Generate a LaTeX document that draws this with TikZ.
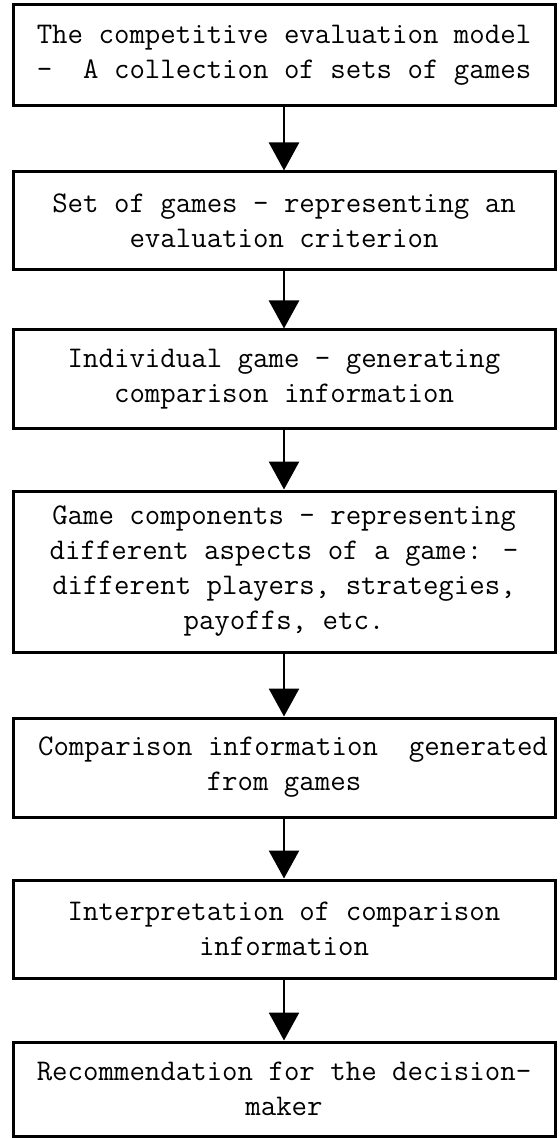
\documentclass[tikz,border=0pt]{standalone}
\usepackage{tikz}
\usetikzlibrary{arrows.meta, positioning}

\begin{document}
\begin{tikzpicture}[>={Triangle[length=14pt, width=15pt]}, line width=1.2pt,
    every node/.style={font=\fontsize{15}{17.5}\selectfont\ttfamily}]
    % Define styles for the stage blocks and the links
    \tikzstyle{block} = [draw, fill=white, rectangle, line width=1.5pt, align=center, minimum width=271pt, inner sep=0pt]
    \tikzstyle{link} = [->, line width=1.3pt]

    \useasboundingbox (0,0) rectangle (279.5pt,-569pt);

    % Nodes placement
    \node [block, minimum height=50.5pt] (model) at (142pt,-27.75pt)
        {The competitive evaluation model\\-\ \ A collection of sets of games};
    \node [block, minimum height=49pt, below of=model, node distance=82.75pt] (gameset)
        {Set of games - representing an\\evaluation criterion};
    \node [block, minimum height=49pt, below of=gameset, node distance=79pt] (game)
        {Individual game - generating\\comparison information};
    \node [block, minimum height=80.5pt, below of=game, node distance=96.25pt] (components)
        {Game components - representing\\different aspects of a game: -\\different players, strategies,\\payoffs, etc.};
    \node [block, minimum height=49.5pt, below of=components, node distance=98pt] (compinfo)
        {\hspace*{9pt}Comparison information\ \ generated\\from games};
    \node [block, minimum height=49pt, below of=compinfo, node distance=80.75pt] (interp)
        {Interpretation of comparison\\information};
    \node [block, minimum height=47pt, below of=interp, node distance=80pt] (recommend)
        {Recommendation for the decision-\\maker};

    % Draw edges
    \draw[link] (model) -- (gameset);
    \draw[link] (gameset) -- (game);
    \draw[link] (game) -- (components);
    \draw[link] (components) -- (compinfo);
    \draw[link] (compinfo) -- (interp);
    \draw[link] (interp) -- (recommend);
\end{tikzpicture}
\end{document}
